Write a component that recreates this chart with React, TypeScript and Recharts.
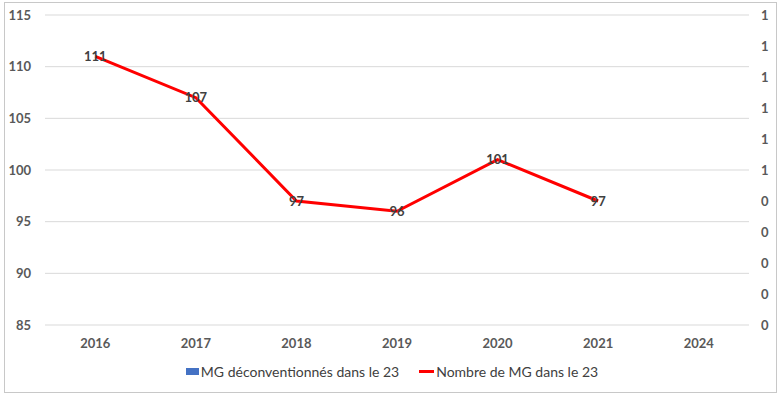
import { Bar, CartesianGrid, ComposedChart, LabelList, Legend, Line, XAxis, YAxis } from "recharts";

const years = ["2016", "2017", "2018", "2019", "2020", "2021", "2024"];
const nombreMG = [111, 107, 97, 96, 101, 97, null];
const deconventionnes = [0, 0, 0, 0, 0, 0, 0];
const leftTicks = [85, 90, 95, 100, 105, 110, 115];
const rightTicks = [0, 0.1, 0.2, 0.3, 0.4, 0.5, 0.6, 0.7, 0.8, 0.9, 1];

const data = years.map((year, i) => ({
  year,
  nombre: nombreMG[i],
  deconv: deconventionnes[i],
}));

const font = "Lato, 'Open Sans', sans-serif";
const tick = { fill: "#595959", fontSize: 13, fontWeight: 700, fontFamily: font };

function LegendContent() {
  return (
    <div style={{ display: "flex", justifyContent: "center", alignItems: "center", fontFamily: font, fontSize: 14, color: "#404040", paddingTop: 8, paddingLeft: 4 }}>
      <span style={{ display: "inline-block", width: 13, height: 7, background: "#4472C4", marginRight: 2 }} />
      <span style={{ marginRight: 20 }}>MG déconventionnés dans le 23</span>
      <span style={{ display: "inline-block", width: 15, height: 3, background: "#FF0000", marginRight: 2 }} />
      <span>Nombre de MG dans le 23</span>
    </div>
  );
}

export default function App() {
  return (
    <div style={{ position: "absolute", left: 0, top: 0, width: 780, height: 395, background: "#fff" }}>
      <div style={{ position: "absolute", left: 4, top: 2, width: 771, height: 389, border: "1px solid #c8c8c8" }} />
      <div style={{ position: "absolute", left: 0, top: 0 }}>
        <ComposedChart width={780} height={395} data={data} margin={{ top: 15, right: 0, left: 0, bottom: 10 }}>
          <CartesianGrid yAxisId="left" stroke="#d9d9d9" vertical={false} />
          <XAxis dataKey="year" tick={tick} axisLine={false} tickLine={false} tickSize={0} tickMargin={14} height={30} />
          <YAxis
            yAxisId="left"
            domain={[85, 115]}
            ticks={leftTicks}
            tick={tick}
            axisLine={false}
            tickLine={false}
            tickSize={0}
            tickMargin={14}
            width={45}
            interval={0}
          />
          <YAxis
            yAxisId="right"
            orientation="right"
            domain={[0, 1]}
            ticks={rightTicks}
            tick={tick}
            tickFormatter={(v) => String(Math.round(v))}
            axisLine={false}
            tickLine={false}
            tickSize={0}
            tickMargin={12}
            width={31}
            interval={0}
          />
          <Legend height={30} content={<LegendContent />} />
          <Bar yAxisId="right" dataKey="deconv" name="MG déconventionnés dans le 23" fill="#4472C4" isAnimationActive={false} />
          <Line
            yAxisId="left"
            type="linear"
            dataKey="nombre"
            name="Nombre de MG dans le 23"
            stroke="#FF0000"
            strokeWidth={3}
            dot={false}
            activeDot={false}
            isAnimationActive={false}
          >
            <LabelList dataKey="nombre" position="center" fill="#404040" fontSize={13} fontWeight={700} fontFamily={font} />
          </Line>
        </ComposedChart>
      </div>
    </div>
  );
}
